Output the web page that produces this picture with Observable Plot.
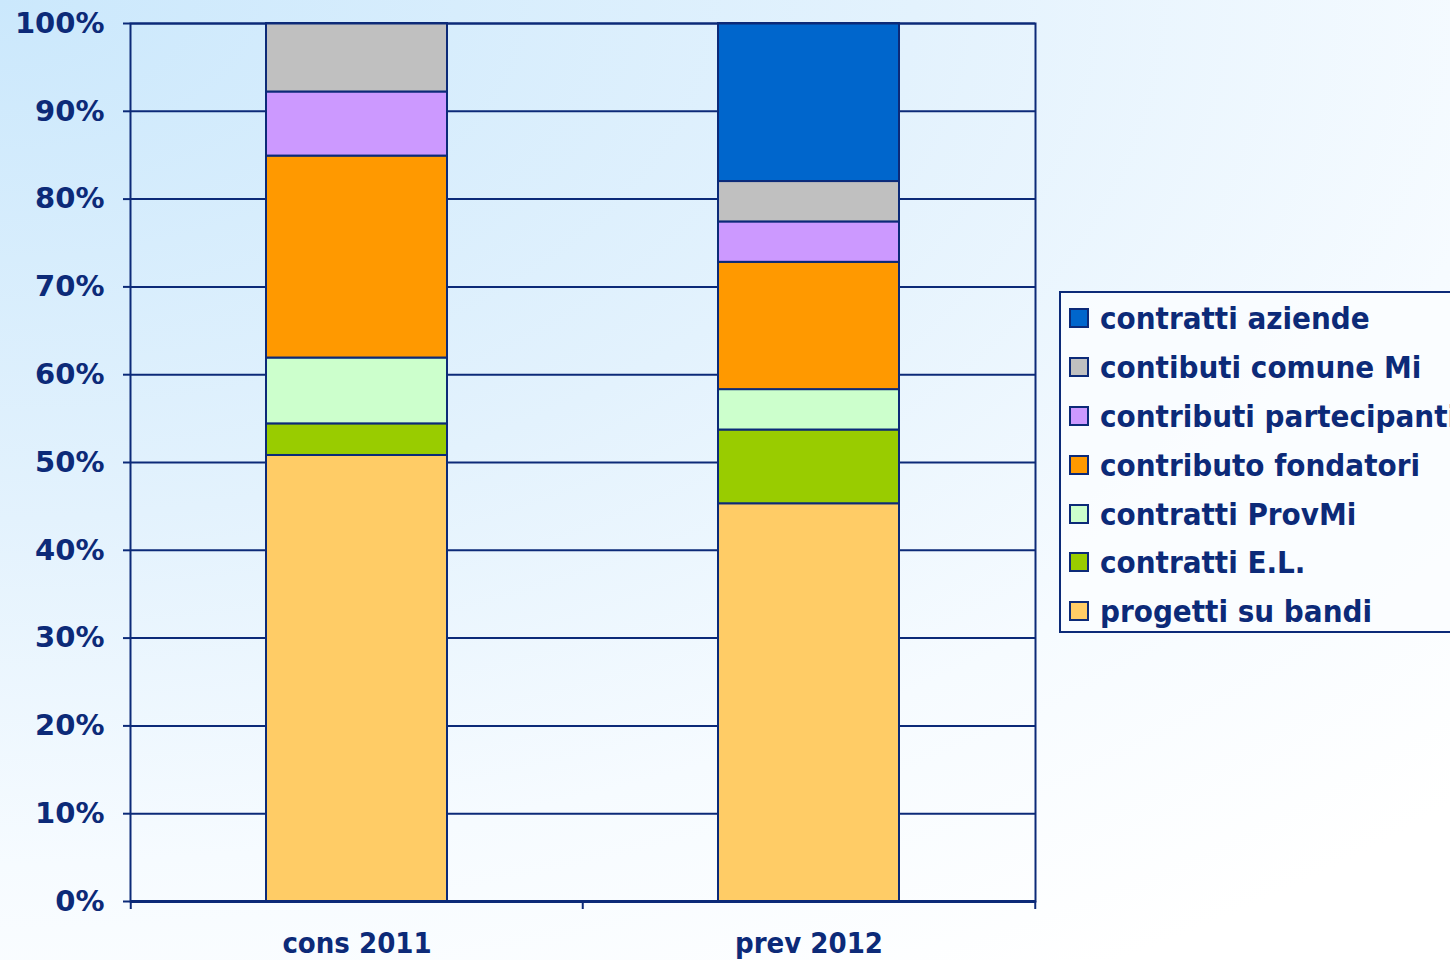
<!DOCTYPE html>
<html>
<head>
<meta charset="utf-8">
<script src="https://cdn.jsdelivr.net/npm/d3@7"></script>
<script src="https://cdn.jsdelivr.net/npm/@observablehq/plot@0.6"></script>
<style>
  html, body { margin: 0; padding: 0; }
  body {
    width: 1450px; height: 960px; overflow: hidden; position: relative;
    background: radial-gradient(ellipse 140% 120% at 0% 0%, #cbe8fc 0%, #e3f2fd 45%, #f6fbff 75%, #ffffff 100%);
    font-family: "DejaVu Sans", Verdana, sans-serif;
  }
  #chart { position: absolute; left: 0; top: 0; }
  #chart [aria-label="x-axis tick label"] text { font-stretch: condensed; }
  #legend {
    position: absolute; left: 1059px; top: 291px; width: 440px; height: 342px;
    box-sizing: border-box; border: 2px solid #0c2a78; background: rgba(250,253,255,0.85);
    padding-top: 1px;
  }
  .row { height: 48.8px; display: flex; align-items: center; }
  .sw { width: 16px; height: 16px; border: 2px solid #0c2a78; margin-left: 8px; margin-right: 11px; flex: none; }
  .lab { font-family: "DejaVu Sans", sans-serif; font-stretch: condensed; font-weight: bold; font-size: 31px; color: #0c2a78; white-space: nowrap; }
</style>
</head>
<body>
<div id="chart"></div>
<div id="legend"></div>
<script>
const categories = ["cons 2011", "prev 2012"];
// stacking order from bottom to top
const series = ["progetti su bandi", "contratti E.L.", "contratti ProvMi", "contributo fondatori", "contributi partecipanti", "contibuti comune Mi", "contratti aziende"];
const colors = ["#ffcc66", "#99cc00", "#ccffcc", "#ff9900", "#cc99ff", "#c0c0c0", "#0066cc"];
const valuesCons2011 = [50.8, 3.6, 7.5, 23.0, 7.3, 7.8, 0];
const valuesPrev2012 = [45.3, 8.4, 4.6, 14.5, 4.6, 4.6, 18.0];
const yTicks = [0, 0.1, 0.2, 0.3, 0.4, 0.5, 0.6, 0.7, 0.8, 0.9, 1];

const navy = "#0c2a78";
const rows = [];
series.forEach((s, i) => {
  rows.push({cat: categories[0], series: s, value: valuesCons2011[i] / 100});
  rows.push({cat: categories[1], series: s, value: valuesPrev2012[i] / 100});
});

const W = 1450, H = 960, mL = 130, mR = 415, mT = 23, mB = 59;
const halfStep = (W - mL - mR) / categories.length / 2;

const plot = Plot.plot({
  width: W, height: H,
  marginLeft: mL, marginRight: mR, marginTop: mT, marginBottom: mB,
  style: {background: "transparent", color: navy, overflow: "visible"},
  x: {domain: categories, paddingInner: 0.6, paddingOuter: 0.3, label: null},
  y: {domain: [0, 1], label: null},
  color: {domain: series, range: colors},
  marks: [
    Plot.gridY(yTicks, {stroke: navy, strokeOpacity: 1, strokeWidth: 2}),
    Plot.barY(rows, Plot.stackY({order: series}, {x: "cat", y: "value", z: "series", fill: "series", stroke: navy, strokeWidth: 2})),
    Plot.frame({stroke: navy, strokeWidth: 2}),
    Plot.ruleY([0], {stroke: navy, strokeWidth: 3}),
    Plot.axisY(yTicks, {tickFormat: d3.format(".0%"), tickSize: 7, tickPadding: 19, stroke: navy, strokeWidth: 2,
      fill: navy, fontSize: 29, fontWeight: "bold", fontFamily: "DejaVu Sans", label: null}),
    Plot.axisX(categories, {tickSize: 0, tickPadding: 31, fill: navy, fontSize: 29, fontWeight: "bold",
      fontFamily: "DejaVu Sans", label: null}),
    Plot.ruleX(categories, {x: d => d, y1: 0, y2: 0, dx: -halfStep, insetBottom: -8, stroke: navy, strokeWidth: 2}),
    Plot.ruleX([categories[categories.length - 1]], {x: d => d, y1: 0, y2: 0, dx: halfStep, insetBottom: -8, stroke: navy, strokeWidth: 2})
  ]
});
document.getElementById("chart").appendChild(plot);

const legend = document.getElementById("legend");
const legendOrder = series.map((s, i) => ({s, c: colors[i]})).reverse();
legendOrder.forEach(({s, c}) => {
  const r = document.createElement("div");
  r.className = "row";
  r.innerHTML = `<div class="sw" style="background:${c}"></div><div class="lab">${s}</div>`;
  legend.appendChild(r);
});
</script>
</body>
</html>
